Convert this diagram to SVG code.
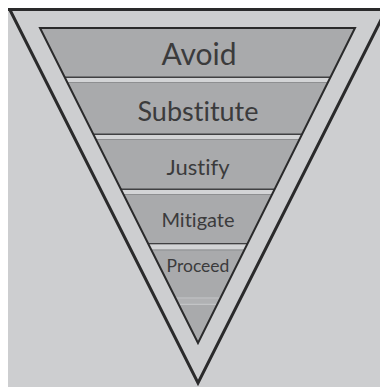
<svg xmlns="http://www.w3.org/2000/svg" width="380" height="387" viewBox="0 0 380 387">
<defs>
<clipPath id="inner"><polygon points="40,28 355,28 198,343"/></clipPath>
<style>
.lbl{font-family:Lato,"Open Sans","Liberation Sans",sans-serif;fill:#3b3b3c;text-anchor:middle;font-variant-ligatures:none;font-feature-settings:"liga" 0,"clig" 0}
.band{fill:#a9aaac}
.sepd{fill:#404042}
.sepl{fill:#d3d4d6}
.sepg{fill:#8e8f91}
.edge{fill:none;stroke:#2a2a2b;stroke-linejoin:miter}
</style>
</defs>
<rect width="380" height="387" fill="#ffffff"/>
<g id="frame">
<rect x="8" y="8" width="372" height="379" fill="#cdced0"/>
<rect x="8" y="8" width="372" height="3" fill="#2a2a2b"/>
<polyline class="edge" points="10,10 198,383 386,10" stroke-width="3"/>
</g>
<g id="pyramid" clip-path="url(#inner)">
<polygon class="band" points="40,28 355,28 198,343"/>
<g id="avoid">
<rect class="sepd" x="0" y="76.5" width="380" height="1.5"/>
<rect class="sepl" x="0" y="78" width="380" height="4"/>
<rect class="sepg" x="0" y="82" width="380" height="1"/>
</g>
<g id="substitute">
<rect class="sepd" x="0" y="133.5" width="380" height="1.5"/>
<rect class="sepl" x="0" y="135" width="380" height="4"/>
<rect class="sepg" x="0" y="139" width="380" height="1"/>
</g>
<g id="justify">
<rect class="sepd" x="0" y="188.5" width="380" height="1.5"/>
<rect class="sepl" x="0" y="190" width="380" height="4"/>
<rect class="sepg" x="0" y="194" width="380" height="1"/>
</g>
<g id="mitigate">
<rect class="sepd" x="0" y="243" width="380" height="1.5"/>
<rect class="sepl" x="0" y="244.5" width="380" height="5"/>
<rect class="sepg" x="0" y="249.5" width="380" height="1"/>
</g>
<g id="proceed">
<rect x="0" y="297.5" width="380" height="1.2" fill="#c6c7c9"/>
<rect x="0" y="298.7" width="380" height="5" fill="#b0b1b3"/>
<rect x="0" y="303.7" width="380" height="1.2" fill="#c6c7c9"/>
</g>
</g>
<polygon class="edge" points="40,28 355,28 198,343" stroke-width="2"/>
<g id="labels">
<text class="lbl" x="199" y="65" font-size="30">Avoid</text>
<text class="lbl" x="198" y="121" font-size="27">Substitute</text>
<text class="lbl" x="198" y="175" font-size="22">Justify</text>
<text class="lbl" x="198" y="227" font-size="20">Mitigate</text>
<text class="lbl" x="198" y="272" font-size="17.5">Proceed</text>
</g>
</svg>
